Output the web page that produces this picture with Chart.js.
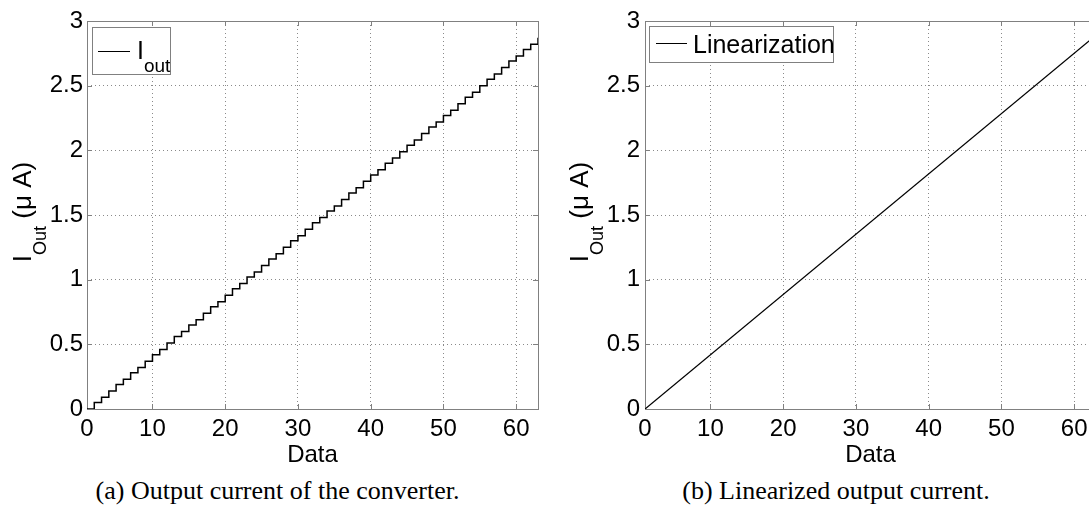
<!doctype html>
<html lang="en">
<head>
<meta charset="UTF-8" />
<title>Converter output current</title>
<script src="https://cdn.jsdelivr.net/npm/chart.js"></script>
<style>
  body { margin: 0; width: 1089px; height: 507px; overflow: hidden; background: #fff; position: relative; }
  .panel { position: absolute; top: 0; }
  .caption { position: absolute; top: 478px; font-family: "Liberation Serif", "Times New Roman", serif;
             font-size: 26px; line-height: 26px; white-space: nowrap; text-align: center; color: #000; }
</style>
</head>
<body>
  <canvas id="chartA" class="panel" width="548" height="470" style="left:0"></canvas>
  <canvas id="chartB" class="panel" width="560" height="470" style="left:548px"></canvas>
  <div class="caption" style="left:0;width:555px">(a) Output current of the converter.</div>
  <div class="caption" style="left:558px;width:556px">(b) Linearized output current.</div>

<script>
const codes = [1, 2, 3, 4, 5, 6, 7, 8, 9, 10, 11, 12, 13, 14, 15, 16, 17, 18, 19, 20,
  21, 22, 23, 24, 25, 26, 27, 28, 29, 30, 31, 32, 33, 34, 35, 36, 37, 38, 39, 40,
  41, 42, 43, 44, 45, 46, 47, 48, 49, 50, 51, 52, 53, 54, 55, 56, 57, 58, 59, 60,
  61, 62, 63];
const iout = [0, 0.05, 0.09, 0.14, 0.19, 0.23, 0.28, 0.32, 0.37, 0.42,
  0.46, 0.51, 0.56, 0.60, 0.65, 0.69, 0.74, 0.79, 0.83, 0.88,
  0.93, 0.97, 1.02, 1.06, 1.11, 1.16, 1.20, 1.25, 1.30, 1.34,
  1.39, 1.44, 1.48, 1.53, 1.57, 1.62, 1.67, 1.71, 1.76, 1.81,
  1.85, 1.90, 1.94, 1.99, 2.04, 2.08, 2.13, 2.18, 2.22, 2.27,
  2.31, 2.36, 2.41, 2.45, 2.50, 2.55, 2.59, 2.64, 2.69, 2.73,
  2.78, 2.82, 2.87];

// linearized fit, end points
const lineCodes = [1, 63];
const lineIout = [0, 2.89];

const xTicks = [1, 10, 20, 30, 40, 50, 60];
const xTickLabels = ['0', '10', '20', '30', '40', '50', '60'];
const yTicks = [0, 0.5, 1, 1.5, 2, 2.5, 3];
const yTickLabels = ['0', '0.5', '1', '1.5', '2', '2.5', '3'];

const AXIS = '#808080';
const GRID = '#8a8a8a';
const FONT = '"Liberation Sans", Arial, sans-serif';

// MATLAB style box, inward ticks, legend and axis titles
const matlabAxes = {
  id: 'matlabAxes',
  beforeDatasetsDraw(chart) {
    const { ctx, chartArea: a, scales: { x, y } } = chart;
    ctx.save();
    ctx.strokeStyle = AXIS;
    ctx.lineWidth = 1;
    ctx.strokeRect(a.left + 0.5, a.top + 0.5, a.right - a.left, a.bottom - a.top);
    ctx.beginPath();
    xTicks.forEach(v => {
      if (v <= x.min || v >= x.max) return;
      const px = Math.round(x.getPixelForValue(v)) + 0.5;
      ctx.moveTo(px, a.bottom); ctx.lineTo(px, a.bottom - 5);
      ctx.moveTo(px, a.top); ctx.lineTo(px, a.top + 5);
    });
    yTicks.forEach(v => {
      if (v <= y.min || v >= y.max) return;
      const py = Math.round(y.getPixelForValue(v)) + 0.5;
      ctx.moveTo(a.left, py); ctx.lineTo(a.left + 5, py);
      ctx.moveTo(a.right, py); ctx.lineTo(a.right - 5, py);
    });
    ctx.stroke();
    ctx.restore();
  },
  afterDraw(chart, args, opts) {
    const { ctx, chartArea: a } = chart;
    ctx.save();
    ctx.fillStyle = '#000';

    // x title
    ctx.font = '24px ' + FONT;
    ctx.textAlign = 'center';
    ctx.textBaseline = 'alphabetic';
    ctx.fillText('Data', (a.left + a.right) / 2, 462);

    // y title: I_Out (μ A), rotated
    ctx.save();
    ctx.translate(opts.yTitleX, (a.top + a.bottom) / 2 - 3);
    ctx.rotate(-Math.PI / 2);
    ctx.textAlign = 'left';
    const big = '26px ' + FONT, small = '18px ' + FONT;
    ctx.font = big; const wI = ctx.measureText('I').width;
    const wRest = ctx.measureText(' (μ A)').width;
    ctx.font = small; const wSub = ctx.measureText('Out').width;
    let tx = -(wI + wSub + wRest) / 2;
    ctx.font = big; ctx.fillText('I', tx, 0); tx += wI;
    ctx.font = small; ctx.fillText('Out', tx, 15); tx += wSub;
    ctx.font = big; ctx.fillText(' (μ A)', tx, 0);
    ctx.restore();

    // legend
    const lg = opts.legend;
    const bx = a.left + lg.dx, by = a.top + lg.dy;
    ctx.fillStyle = '#fff';
    ctx.fillRect(bx, by, lg.w, lg.h);
    ctx.strokeStyle = AXIS;
    ctx.lineWidth = 1;
    ctx.strokeRect(bx + 0.5, by + 0.5, lg.w, lg.h);
    ctx.strokeStyle = '#000';
    ctx.beginPath();
    ctx.moveTo(bx + lg.line[0], by + lg.line[2] + 0.5);
    ctx.lineTo(bx + lg.line[1], by + lg.line[2] + 0.5);
    ctx.stroke();
    ctx.fillStyle = '#000';
    ctx.textAlign = 'left';
    ctx.font = '25px ' + FONT;
    ctx.fillText(lg.text, bx + lg.textX, by + lg.textY);
    if (lg.sub) {
      const w = ctx.measureText(lg.text).width;
      ctx.font = '19px ' + FONT;
      ctx.fillText(lg.sub, bx + lg.textX + w, by + lg.textY + 13);
    }
    ctx.restore();
  }
};

function axisScales(yWidth, xHeight, yPad) {
  const gridColor = c => (c.tick && (c.tick.value === c.scale.min || c.tick.value === c.scale.max))
    ? 'rgba(0,0,0,0)' : GRID;
  return {
    x: {
      type: 'linear', min: 1, max: 63,
      afterBuildTicks: s => { s.ticks = xTicks.map(v => ({ value: v })); },
      afterFit: s => { s.height = xHeight; },
      ticks: {
        autoSkip: false, maxRotation: 0, padding: 6, color: '#000',
        font: { family: FONT, size: 24 },
        callback: v => xTickLabels[xTicks.indexOf(v)]
      },
      grid: { color: gridColor, drawTicks: false, lineWidth: 1 },
      border: { display: false, dash: [1, 3] }
    },
    y: {
      type: 'linear', min: 0, max: 3,
      afterBuildTicks: s => { s.ticks = yTicks.map(v => ({ value: v })); },
      afterFit: s => { s.width = yWidth; },
      ticks: {
        autoSkip: false, padding: yPad, color: '#000',
        font: { family: FONT, size: 24 },
        callback: v => yTickLabels[yTicks.indexOf(v)]
      },
      grid: { color: gridColor, drawTicks: false, lineWidth: 1 },
      border: { display: false, dash: [1, 3] }
    }
  };
}

new Chart(document.getElementById('chartA'), {
  type: 'line',
  data: {
    datasets: [{
      label: 'Iout',
      data: codes.map((c, i) => ({ x: c, y: iout[i] })),
      stepped: true,
      borderColor: '#000',
      borderWidth: 1.5,
      pointRadius: 0,
      fill: false
    }]
  },
  options: {
    responsive: false,
    animation: false,
    layout: { padding: { left: 0, top: 21, right: 10, bottom: 0 } },
    scales: axisScales(87, 61, 4),
    plugins: {
      legend: { display: false },
      tooltip: { enabled: false },
      matlabAxes: {
        yTitleX: 31,
        legend: { dx: 5, dy: 6, w: 78, h: 47, line: [6, 38, 24], text: 'I', textX: 45, textY: 32, sub: 'out' }
      }
    }
  },
  plugins: [matlabAxes]
});

new Chart(document.getElementById('chartB'), {
  type: 'line',
  data: {
    datasets: [{
      label: 'Linearization',
      data: lineCodes.map((c, i) => ({ x: c, y: lineIout[i] })),
      borderColor: '#000',
      borderWidth: 1.3,
      pointRadius: 0,
      tension: 0,
      fill: false
    }]
  },
  options: {
    responsive: false,
    animation: false,
    layout: { padding: { left: 0, top: 21, right: 12, bottom: 0 } },
    scales: axisScales(97, 61, 5),
    plugins: {
      legend: { display: false },
      tooltip: { enabled: false },
      matlabAxes: {
        yTitleX: 40,
        legend: { dx: 4, dy: 5, w: 184, h: 36, line: [7, 38, 17], text: 'Linearization', textX: 44, textY: 27 }
      }
    }
  },
  plugins: [matlabAxes]
});
</script>
</body>
</html>
